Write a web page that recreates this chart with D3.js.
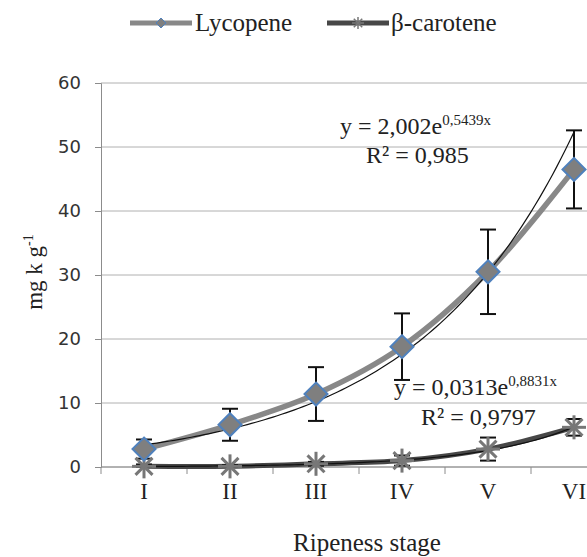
<!DOCTYPE html>
<html>
<head>
<meta charset="utf-8">
<script src="https://d3js.org/d3.v7.min.js"></script>
<style>
  body { margin: 0; background: #fff; }
</style>
</head>
<body>
<div id="chart"></div>
<script>
// data
const stages = ["I", "II", "III", "IV", "V", "VI"];
const lycopene = [2.8, 6.6, 11.4, 18.8, 30.5, 46.5];
const lycopeneErr = [1.5, 2.5, 4.2, 5.2, 6.6, 6.1];
const carotene = [0.1, 0.1, 0.5, 1.0, 2.8, 6.2];
const caroteneErr = [0.3, 0.2, 0.3, 0.8, 1.8, 1.3];
const yTicks = [0, 10, 20, 30, 40, 50, 60];
// exponential trend lines y = a*e^(b*x)
const trendA = [2.002, 0.0313];
const trendB = [0.5439, 0.8831];

const SERIF = '"Liberation Serif", "Times New Roman", serif';
const SANS = '"DejaVu Sans", Verdana, sans-serif';

const W = 587, H = 557;
const margin = {top: 83, left: 101};
const plotW = 516, plotH = 384;

const svg = d3.select("#chart").append("svg")
  .attr("width", W).attr("height", H);

const g = svg.append("g").attr("transform", `translate(${margin.left},${margin.top})`);

const x = d3.scaleBand().domain(stages).range([0, plotW]);
const xc = d => x(d) + x.bandwidth() / 2;
const y = d3.scaleLinear().domain([0, 60]).range([plotH, 0]);

// gridlines
g.selectAll(".grid").data(yTicks).enter().append("line")
  .attr("x1", 0).attr("x2", plotW)
  .attr("y1", d => y(d)).attr("y2", d => y(d))
  .attr("stroke", "#b0b0b0").attr("stroke-width", 1);

// y axis
const yAxis = g.append("g").call(d3.axisLeft(y).tickValues(yTicks).tickSize(6).tickPadding(14));
yAxis.select(".domain").attr("stroke", "#8c8c8c");
yAxis.selectAll(".tick line").attr("stroke", "#8c8c8c");
yAxis.selectAll("text").style("font-family", SANS).style("font-size", "18px").attr("fill", "#333");

// x axis
const xAxisG = g.append("g").attr("transform", `translate(0,${plotH})`);
xAxisG.append("line").attr("x1", 0).attr("x2", plotW).attr("stroke", "#8c8c8c");
xAxisG.selectAll(".xt").data(d3.range(stages.length + 1)).enter().append("line")
  .attr("x1", i => i * x.bandwidth()).attr("x2", i => i * x.bandwidth())
  .attr("y1", 0).attr("y2", 7).attr("stroke", "#8c8c8c");
xAxisG.selectAll(".xl").data(stages).enter().append("text")
  .attr("x", d => xc(d)).attr("y", 32)
  .attr("text-anchor", "middle").style("font-family", SERIF).style("font-size", "23px").attr("fill", "#222")
  .text(d => d);

// axis titles
svg.append("text")
  .attr("transform", "translate(42,272) rotate(-90)")
  .attr("text-anchor", "middle").style("font-family", SERIF).style("font-size", "23px").attr("fill", "#222")
  .html('mg k g<tspan dy="-9" font-size="14">-1</tspan>');
svg.append("text")
  .attr("x", 367).attr("y", 551).attr("text-anchor", "middle")
  .style("font-family", SERIF).style("font-size", "25px").attr("fill", "#222").text("Ripeness stage");

const line = d3.line().x((d, i) => xc(stages[i])).y(d => y(d)).curve(d3.curveCatmullRom.alpha(0.5));

// series lines
g.append("path").datum(lycopene).attr("d", line)
  .attr("fill", "none").attr("stroke", "#888").attr("stroke-width", 5.5);
g.append("path").datum(carotene).attr("d", line)
  .attr("fill", "none").attr("stroke", "#474747").attr("stroke-width", 5);

// trend lines
const tx = d3.scaleLinear().domain([1, 6]).range([xc("I"), xc("VI")]);
trendA.forEach((a, k) => {
  const pts = d3.range(1, 6.001, 0.05).map(t => [tx(t), y(a * Math.exp(trendB[k] * t))]);
  g.append("path").attr("d", d3.line()(pts))
    .attr("fill", "none").attr("stroke", "#111").attr("stroke-width", 1.2);
});

// error bars
function errorBars(vals, errs) {
  const eg = g.append("g").attr("stroke", "#111").attr("stroke-width", 2);
  vals.forEach((v, i) => {
    const cx = xc(stages[i]);
    const y1 = y(v + errs[i]), y0 = y(Math.max(v - errs[i], 0));
    eg.append("line").attr("x1", cx).attr("x2", cx).attr("y1", y1).attr("y2", y0);
    eg.append("line").attr("x1", cx - 8).attr("x2", cx + 8).attr("y1", y1).attr("y2", y1);
    eg.append("line").attr("x1", cx - 8).attr("x2", cx + 8).attr("y1", y0).attr("y2", y0);
  });
}
errorBars(lycopene, lycopeneErr);
errorBars(carotene, caroteneErr);

// markers
const diamond = r => `M0,${-r}L${r},0L0,${r}L${-r},0Z`;
function asterisk(sel, r, w) {
  [0, 45, 90, 135].forEach(a => {
    const rad = a * Math.PI / 180;
    sel.append("line")
      .attr("x1", -r * Math.sin(rad)).attr("y1", -r * Math.cos(rad))
      .attr("x2", r * Math.sin(rad)).attr("y2", r * Math.cos(rad))
      .attr("stroke", "#777").attr("stroke-width", w);
  });
}
carotene.forEach((v, i) => {
  const m = g.append("g").attr("transform", `translate(${xc(stages[i])},${y(v)})`);
  asterisk(m, 12, 3);
});
lycopene.forEach((v, i) => {
  g.append("path").attr("d", diamond(11.5))
    .attr("transform", `translate(${xc(stages[i])},${y(v)})`)
    .attr("fill", "#7f7f7f").attr("stroke", "#4f81bd").attr("stroke-width", 2);
});

// trend equations
function equation(xp, yp, a, b, r2x, r2y, r2) {
  const t = svg.append("text").attr("x", xp).attr("y", yp)
    .style("font-family", SERIF).style("font-size", "24px").attr("fill", "#222");
  t.append("tspan").text(`y = ${a}e`);
  t.append("tspan").attr("dy", -9).style("font-size", "15px").text(`${b}x`);
  svg.append("text").attr("x", r2x).attr("y", r2y)
    .style("font-family", SERIF).style("font-size", "24px").attr("fill", "#222").text(`R² = ${r2}`);
}
equation(340, 134, "2,002", "0,5439", 366, 163, "0,985");
equation(394, 395, "0,0313", "0,8831", 421, 425, "0,9797");

// legend
const leg = svg.append("g");
leg.append("line").attr("x1", 130).attr("x2", 192).attr("y1", 23).attr("y2", 23)
  .attr("stroke", "#888").attr("stroke-width", 5);
leg.append("path").attr("d", diamond(5)).attr("transform", "translate(161,23)")
  .attr("fill", "#7f7f7f").attr("stroke", "#4f81bd").attr("stroke-width", 1);
leg.append("text").attr("x", 195).attr("y", 31)
  .style("font-family", SERIF).style("font-size", "25px").attr("fill", "#222").text("Lycopene");
leg.append("line").attr("x1", 327).attr("x2", 389).attr("y1", 23).attr("y2", 23)
  .attr("stroke", "#474747").attr("stroke-width", 5);
asterisk(leg.append("g").attr("transform", "translate(358,23)"), 6, 1.5);
leg.append("text").attr("x", 391).attr("y", 31)
  .style("font-family", SERIF).style("font-size", "25px").attr("fill", "#222").text("β-carotene");
</script>
</body>
</html>
